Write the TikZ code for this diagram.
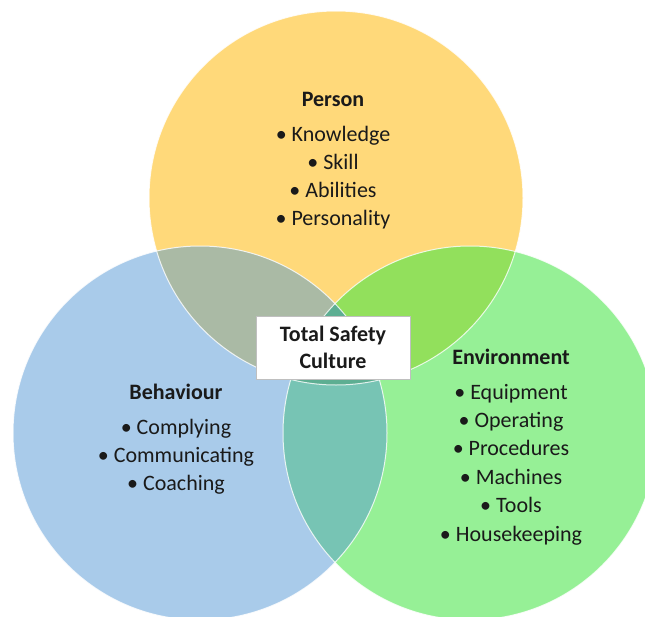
\documentclass[tikz,border=0pt]{standalone}
\usepackage{fontspec}
\setmainfont{Carlito}
\usepackage{xcolor}

\definecolor{personyellow}{HTML}{FFD97A}
\definecolor{behavblue}{HTML}{A9CBEA}
\definecolor{envgreen}{HTML}{96F096}
\definecolor{pbmix}{HTML}{AABAA5}
\definecolor{pemix}{HTML}{92E05C}
\definecolor{bemix}{HTML}{77C4B4}
\definecolor{allmix}{HTML}{5DAE92}
\definecolor{txtgray}{HTML}{1A1A1A}

\tikzset{
	item/.style={anchor=base, inner sep=0pt, text=txtgray, font=\fontsize{22}{26}\selectfont},
	head/.style={item, font=\fontsize{22}{26}\selectfont\bfseries},
	ring/.style={draw=white, line width=1pt, opacity=0.8}
}

\begin{document}
\begin{tikzpicture}[x=1pt,y=-1pt]
	% Parameters
	\def\rad{187}

	%canvas
	\clip (0,0) rectangle (645,616);
	\fill[white] (0,0) rectangle (645,616);

	%centres
	\coordinate (cperson) at (336,198);
	\coordinate (cbehav) at (200,433);
	\coordinate (cenv) at (470,433);

	%circles
	\fill[personyellow] (cperson) circle (\rad);
	\fill[behavblue] (cbehav) circle (\rad);
	\fill[envgreen] (cenv) circle (\rad);

	%overlaps
	\begin{scope}
		\clip (cperson) circle (\rad);
		\fill[pbmix] (cbehav) circle (\rad);
		\fill[pemix] (cenv) circle (\rad);
	\end{scope}
	\begin{scope}
		\clip (cbehav) circle (\rad);
		\fill[bemix] (cenv) circle (\rad);
		\clip (cperson) circle (\rad);
		\fill[allmix] (cenv) circle (\rad);
	\end{scope}

	%edges
	\draw[ring] (cperson) circle (\rad);
	\draw[ring] (cbehav) circle (\rad);
	\draw[ring] (cenv) circle (\rad);

	%labels
	\node[head] (person) at (333,106) {Person};
	\foreach \t [count=\i] in {Knowledge,Skill,Abilities,Personality}
		\node[item] (p\i) at (333,141+28*\i-28) {• \t};

	\node[head] (behav) at (176,399) {Behaviour};
	\foreach \t [count=\i] in {Complying,Communicating,Coaching}
		\node[item] (b\i) at (176,434+28*\i-28) {• \t};

	\node[head] (env) at (511,364) {Environment};
	\foreach \t [count=\i] in {Equipment,Operating,Procedures,Machines,Tools,Housekeeping}
		\node[item] (e\i) at (511,399+28.4*\i-28.4) {• \t};

	%centre box
	\node[draw=black!25, fill=white, line width=0.8pt, minimum width=154, minimum height=63,
		align=center, inner sep=0pt, text=txtgray, font=\fontsize{22}{27}\selectfont\bfseries]
		(total) at (333,347.5) {Total Safety\\Culture};
\end{tikzpicture}
\end{document}
